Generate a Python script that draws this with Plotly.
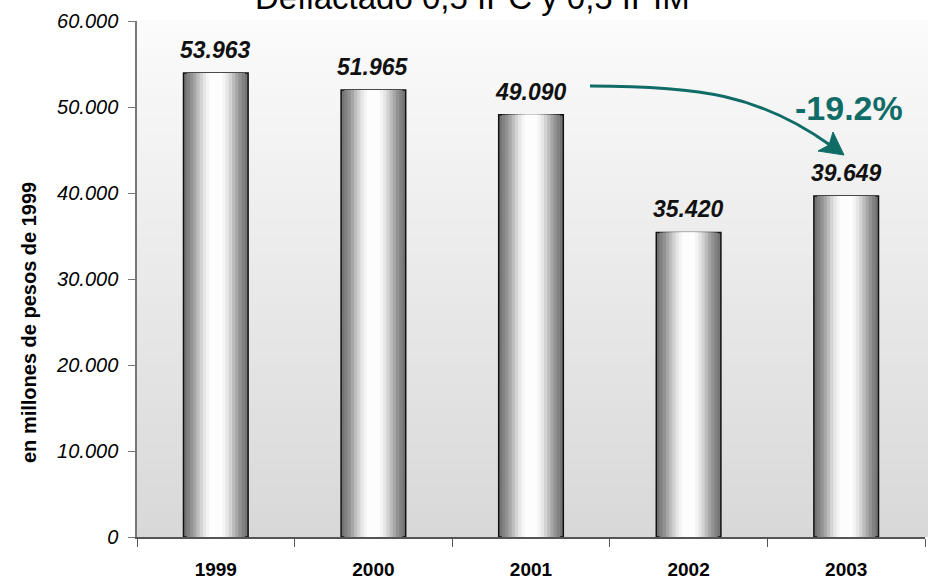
import plotly.graph_objects as go

# Data
years = ["1999", "2000", "2001", "2002", "2003"]
values = [53963, 51965, 49090, 35420, 39649]
y_ticks = [0, 10000, 20000, 30000, 40000, 50000, 60000]

title_text = "Deflactado 0,5 IPC y 0,5 IPIM"
y_title = "en millones de pesos de 1999"

FONT = "Arial, Liberation Sans, sans-serif"
TEAL = "#106c67"

W, H = 928, 582
ML, MR, MT, MB = 137, 3, 21, 45
PW, PH = W - ML - MR, H - MT - MB


def px2x(px):
    return (px - ML) / PW


def py2y(py):
    return (MT + PH - py) / PH


fig = go.Figure()

# Cylinder-like shading: stacked overlay bars, narrowing toward a light centre
bar_width = 0.41
shade = [
    (1.00, "#747474"),
    (0.90, "#828282"),
    (0.80, "#929292"),
    (0.70, "#a6a6a6"),
    (0.60, "#bdbdbd"),
    (0.50, "#d3d3d3"),
    (0.40, "#e6e6e6"),
    (0.30, "#f4f4f4"),
    (0.20, "#fdfdfd"),
]
for i, (frac, col) in enumerate(shade):
    fig.add_trace(go.Bar(
        x=years, y=values, width=bar_width * frac,
        marker=dict(color=col,
                    line=dict(color="#111111" if i == 0 else col,
                              width=1.5 if i == 0 else 0)),
        hoverinfo="skip" if i else "y", showlegend=False,
    ))

# Value labels above the bars (category index positions)
for idx, v in enumerate(values):
    fig.add_annotation(
        x=idx, y=v, xref="x", yref="y", xanchor="center", yanchor="middle", yshift=23,
        text=f"{v:,}".replace(",", "."), showarrow=False,
        font=dict(family=FONT, size=23, color="#111111", style="italic", weight="bold"),
    )

# Vertical gradient background of the plotting area
n_bands = 60
top_c, bot_c = 0xfb, 0xd8
for k in range(n_bands):
    t = (k + 0.5) / n_bands
    c = int(round(bot_c + (top_c - bot_c) * t))
    fig.add_shape(type="rect", xref="paper", yref="paper",
                  x0=0, x1=1.01, y0=k / n_bands, y1=(k + 1) / n_bands + 0.002,
                  fillcolor=f"rgb({c},{c},{c})", line=dict(width=0), layer="below")

# Curved arrow from 2001 to 2003
p0, p1, p2, p3 = (590, 86), (700, 86), (760, 95), (830, 145)
path = "M {},{} C {},{} {},{} {},{}".format(
    px2x(p0[0]), py2y(p0[1]), px2x(p1[0]), py2y(p1[1]),
    px2x(p2[0]), py2y(p2[1]), px2x(p3[0]), py2y(p3[1]))
fig.add_shape(type="path", xref="paper", yref="paper", path=path,
              line=dict(color=TEAL, width=3))
head = [(844, 155), (818, 151), (829, 145), (833, 132)]
head_path = "M " + " L ".join(f"{px2x(a)},{py2y(b)}" for a, b in head) + " Z"
fig.add_shape(type="path", xref="paper", yref="paper", path=head_path,
              fillcolor=TEAL, line=dict(color=TEAL, width=1))

pct = (values[4] - values[2]) / values[2] * 100
fig.add_annotation(
    x=px2x(849), y=py2y(108), xref="paper", yref="paper",
    xanchor="center", yanchor="middle",
    text=f"{pct:.1f}%", showarrow=False,
    font=dict(family=FONT, size=34, color=TEAL, weight="bold"),
)

# Title (partly above the visible page)
fig.add_annotation(
    x=px2x(472), y=py2y(18), xref="paper", yref="paper",
    xanchor="center", yanchor="bottom",
    text=title_text, showarrow=False,
    font=dict(family=FONT, size=33, color="#000000"),
)

# Y axis title
fig.add_annotation(
    x=px2x(29), y=py2y(323), xref="paper", yref="paper",
    xanchor="center", yanchor="middle",
    text=y_title, textangle=-90, showarrow=False,
    font=dict(family=FONT, size=20, color="#000000", weight="bold"),
)

fig.update_layout(
    width=W, height=H,
    margin=dict(l=ML, r=MR, t=MT, b=MB, pad=0),
    barmode="overlay",
    paper_bgcolor="white", plot_bgcolor="rgba(0,0,0,0)",
    separators=",.",
    font=dict(family=FONT, color="#000000"),
)
fig.update_xaxes(
    type="category", tickson="boundaries", ticks="outside", ticklen=8,
    tickcolor="#555555", showline=True, linecolor="#555555", linewidth=1.5,
    showgrid=False, ticklabelstandoff=14,
    tickfont=dict(family=FONT, size=19, weight="bold", color="#000000"),
    range=[-0.5, 4.5],
)
fig.update_yaxes(
    range=[0, 60000], tickvals=y_ticks, tickformat=",d",
    ticks="outside", ticklen=7, tickcolor="#777777",
    showline=True, linecolor="#777777", linewidth=1.5,
    showgrid=False, zeroline=False, ticklabelstandoff=6,
    tickfont=dict(family=FONT, size=20, style="italic", color="#000000"),
)

fig.write_html("out.html")
